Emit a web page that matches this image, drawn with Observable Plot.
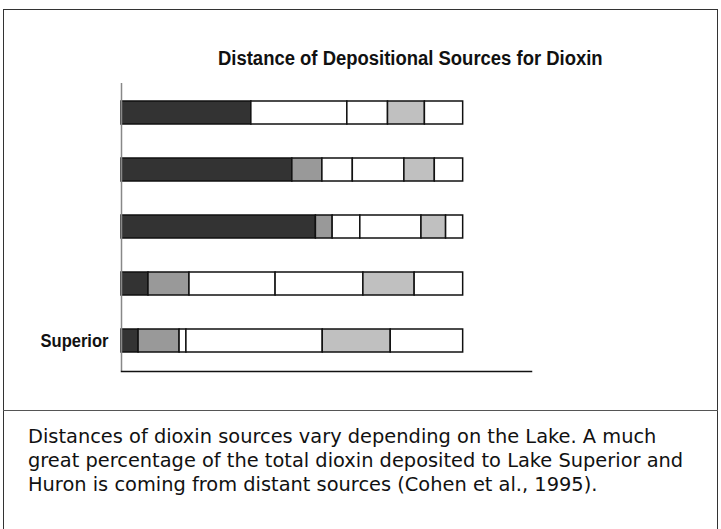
<!DOCTYPE html>
<html>
<head>
<meta charset="utf-8">
<script src="https://cdn.jsdelivr.net/npm/d3@7"></script>
<script src="https://cdn.jsdelivr.net/npm/@observablehq/plot@0.6"></script>
<style>
  html, body { margin: 0; padding: 0; background: #fff; width: 721px; height: 529px; overflow: hidden; }
  #frame { position: absolute; left: 3px; top: 9px; width: 715px; height: 600px; border: 1.5px solid #333; box-sizing: border-box; }
  #divider { position: absolute; left: 3px; top: 410px; width: 715px; border-top: 1.5px solid #555; }
  #title { position: absolute; left: 218px; top: 47px; font-family: "Liberation Sans", Arial, sans-serif; font-weight: bold; font-size: 20px; color: #111; white-space: nowrap; transform: scaleX(0.923); transform-origin: 0 0; }
  #chart { position: absolute; left: 0; top: 0; }
  #caption { position: absolute; left: 28px; top: 425px; font-family: "DejaVu Sans", sans-serif; font-size: 19.4px; line-height: 24px; color: #111; white-space: nowrap; }
</style>
</head>
<body>
<div id="frame"></div>
<div id="divider"></div>
<div id="chart"></div>
<div id="title"></div>
<div id="caption"></div>
<script>
// Lakes, top to bottom (only "Superior" is labelled in the reference)
const lakes = ["Ontario", "Erie", "Michigan", "Huron", "Superior"];
const lakeLabels = ["", "", "", "", "Superior"];
// Distance categories (stacked left to right)
const categories = ["0-100 km", "100-250 km", "250-500 km", "500-1000 km", "1000-2000 km", ">2000 km"];
const categoryColors = ["#333333", "#999999", "#ffffff", "#ffffff", "#c0c0c0", "#ffffff"];
// Percent of deposition per category, one array per lake
const ontario  = [38.0, 0.0, 28.1, 11.9, 10.8, 11.2];
const erie     = [50.0, 8.8, 8.9, 15.1, 8.9, 8.3];
const michigan = [56.9, 4.9, 8.1, 17.9, 7.2, 5.0];
const huron    = [7.9, 12.0, 25.2, 25.7, 15.0, 14.2];
const superior = [5.0, 12.0, 2.0, 39.9, 19.9, 21.2];
const titleText = "Distance of Depositional Sources for Dioxin";
const captionLines = [
  "Distances of dioxin sources vary depending on the Lake. A much",
  "great percentage of the total dioxin deposited to Lake Superior and",
  "Huron is coming from distant sources (Cohen et al., 1995)."
];

const series = [ontario, erie, michigan, huron, superior];
const data = [];
lakes.forEach((lake, i) => {
  categories.forEach((cat, j) => {
    data.push({lake, category: cat, value: series[i][j]});
  });
});

const labelOf = new Map(lakes.map((l, i) => [l, lakeLabels[i]]));

const chart = Plot.plot({
  width: 721,
  height: 400,
  marginTop: 83,
  marginBottom: 29,
  marginLeft: 121,
  marginRight: 190,
  style: {background: "transparent", overflow: "visible"},
  x: {domain: [0, 120], axis: null},
  y: {domain: lakes, paddingInner: 0.59, paddingOuter: 0.295, label: null},
  color: {domain: categories, range: categoryColors},
  marks: [
    Plot.barX(data, Plot.stackX({x: "value", y: "lake", fill: "category", stroke: "#111", strokeWidth: 1.5, order: null})),
    Plot.ruleX([0], {stroke: "#888", strokeWidth: 1.5}),
    Plot.frame({anchor: "bottom", stroke: "#111", strokeWidth: 1.5}),
    Plot.axisY({tickSize: 0, tickPadding: 13, tickFormat: d => labelOf.get(d), fontSize: 18.5, fontWeight: "bold",
      fontFamily: "'Liberation Sans', Arial, sans-serif", fill: "#111", label: null})
  ]
});
// condense the bold lake label to the reference's narrow face
d3.select(chart).selectAll("[aria-label='y-axis tick label'] text").each(function() {
  const t = this.textContent;
  if (t) { this.setAttribute("textLength", 68); this.setAttribute("lengthAdjust", "spacingAndGlyphs"); }
});
document.getElementById("chart").appendChild(chart);
document.getElementById("title").textContent = titleText;
const cap = document.getElementById("caption");
captionLines.forEach((line, i) => {
  if (i) cap.appendChild(document.createElement("br"));
  cap.appendChild(document.createTextNode(line));
});
</script>
</body>
</html>
